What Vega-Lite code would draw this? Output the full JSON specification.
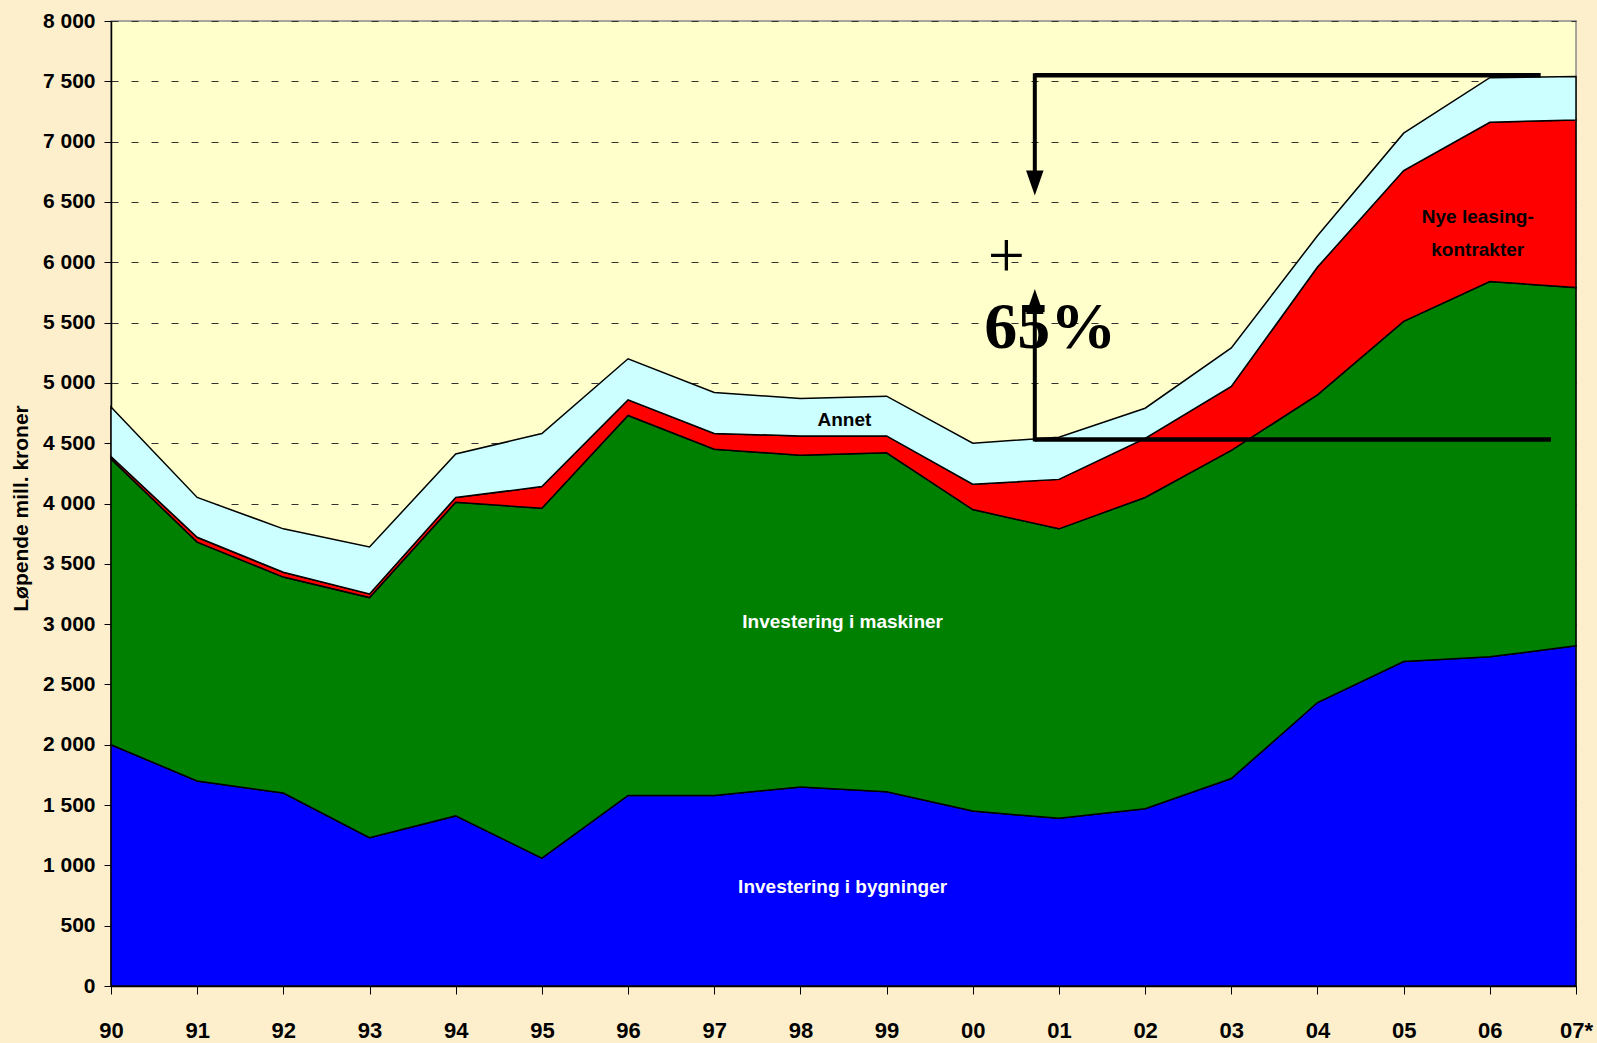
{
  "$schema": "https://vega.github.io/schema/vega-lite/v6.json",
  "width": 1465,
  "height": 965,
  "autosize": "none",
  "padding": {"left": 111, "top": 21, "right": 21, "bottom": 57},
  "background": "#FDEFCB",
  "config": {
    "view": {"fill": "#FFFFCC", "stroke": "#8c8c8c", "strokeWidth": 1.5},
    "text": {"font": "Liberation Sans", "fontWeight": "bold", "fontSize": 19}
  },
  "datasets": {
    "inv": [
      {"aar": 1990, "bygninger": 2000, "maskiner": 2370, "leasing": 20, "annet": 410},
      {"aar": 1991, "bygninger": 1700, "maskiner": 1980, "leasing": 40, "annet": 330},
      {"aar": 1992, "bygninger": 1600, "maskiner": 1790, "leasing": 40, "annet": 360},
      {"aar": 1993, "bygninger": 1230, "maskiner": 1990, "leasing": 30, "annet": 390},
      {"aar": 1994, "bygninger": 1410, "maskiner": 2600, "leasing": 40, "annet": 360},
      {"aar": 1995, "bygninger": 1060, "maskiner": 2900, "leasing": 180, "annet": 440},
      {"aar": 1996, "bygninger": 1580, "maskiner": 3150, "leasing": 130, "annet": 340},
      {"aar": 1997, "bygninger": 1580, "maskiner": 2870, "leasing": 130, "annet": 340},
      {"aar": 1998, "bygninger": 1650, "maskiner": 2750, "leasing": 160, "annet": 310},
      {"aar": 1999, "bygninger": 1610, "maskiner": 2810, "leasing": 140, "annet": 330},
      {"aar": 2000, "bygninger": 1450, "maskiner": 2500, "leasing": 210, "annet": 340},
      {"aar": 2001, "bygninger": 1390, "maskiner": 2400, "leasing": 410, "annet": 350},
      {"aar": 2002, "bygninger": 1470, "maskiner": 2580, "leasing": 490, "annet": 250},
      {"aar": 2003, "bygninger": 1720, "maskiner": 2720, "leasing": 530, "annet": 320},
      {"aar": 2004, "bygninger": 2350, "maskiner": 2550, "leasing": 1060, "annet": 260},
      {"aar": 2005, "bygninger": 2690, "maskiner": 2820, "leasing": 1250, "annet": 310},
      {"aar": 2006, "bygninger": 2730, "maskiner": 3110, "leasing": 1320, "annet": 370},
      {"aar": 2007, "bygninger": 2820, "maskiner": 2970, "leasing": 1390, "annet": 360}
    ],
    "rekkefolge": [
      {"serie": "bygninger", "nr": 1},
      {"serie": "maskiner", "nr": 2},
      {"serie": "leasing", "nr": 3},
      {"serie": "annet", "nr": 4}
    ]
  },
  "layer": [
    {
      "data": {"name": "inv"},
      "transform": [
        {"fold": ["bygninger", "maskiner", "leasing", "annet"], "as": ["serie", "verdi"]},
        {"lookup": "serie", "from": {"data": {"name": "rekkefolge"}, "key": "serie", "fields": ["nr"]}}
      ],
      "mark": {"type": "area", "stroke": "#000000", "strokeWidth": 1.5},
      "encoding": {
        "x": {
          "field": "aar", "type": "quantitative",
          "scale": {"domain": [1990, 2007], "nice": false, "zero": false},
          "axis": {
            "title": null,
            "values": [1990,1991,1992,1993,1994,1995,1996,1997,1998,1999,2000,2001,2002,2003,2004,2005,2006,2007],
            "labelExpr": "datum.value == 2007 ? '07*' : substring(toString(datum.value), 2, 4)",
            "grid": false,
            "domainColor": "#000000", "domainWidth": 1.5,
            "tickColor": "#000000", "tickSize": 8, "tickWidth": 1,
            "labelFont": "Liberation Sans", "labelFontWeight": "bold", "labelFontSize": 22,
            "labelColor": "#000000", "labelPadding": 26, "labelFlush": false
          }
        },
        "y": {
          "field": "verdi", "type": "quantitative", "stack": "zero",
          "scale": {"domain": [0, 8000], "nice": false},
          "axis": {
            "title": "Løpende mill. kroner",
            "titleFont": "Liberation Sans", "titleFontSize": 21, "titleFontWeight": "bold", "titleColor": "#000000",
            "titleX": -90, "titleY": 487, "titleAlign": "center", "titleBaseline": "middle",
            "values": [0,500,1000,1500,2000,2500,3000,3500,4000,4500,5000,5500,6000,6500,7000,7500,8000],
            "labelExpr": "replace(format(datum.value, ','), ',', ' ')",
            "grid": true, "gridDash": [7, 13], "gridColor": "#333333", "gridWidth": 1,
            "domainColor": "#000000", "domainWidth": 1.5,
            "tickColor": "#000000", "tickSize": 7,
            "labelFont": "Liberation Sans", "labelFontWeight": "bold", "labelFontSize": 21,
            "labelColor": "#000000", "labelPadding": 9
          }
        },
        "color": {
          "field": "serie", "type": "nominal",
          "scale": {"domain": ["bygninger", "maskiner", "leasing", "annet"], "range": ["#0000FF", "#008000", "#FF0000", "#CCFFFF"]},
          "legend": null
        },
        "order": {"field": "nr", "type": "quantitative"}
      }
    },
    {
      "data": {"values": [{}]},
      "mark": {"type": "rule", "color": "#000000", "strokeWidth": 4.5},
      "encoding": {"x": {"datum": 2000.72, "type": "quantitative"}, "x2": {"datum": 2006.59}, "y": {"datum": 7550, "type": "quantitative"}}
    },
    {
      "data": {"values": [{}]},
      "mark": {"type": "rule", "color": "#000000", "strokeWidth": 4.5},
      "encoding": {"x": {"datum": 2000.72, "type": "quantitative"}, "x2": {"datum": 2006.71}, "y": {"datum": 4530, "type": "quantitative"}}
    },
    {
      "data": {"values": [{}]},
      "mark": {"type": "rule", "color": "#000000", "strokeWidth": 4, "strokeCap": "square"},
      "encoding": {"x": {"datum": 2000.72, "type": "quantitative"}, "y": {"datum": 7550, "type": "quantitative"}, "y2": {"datum": 6680}}
    },
    {
      "data": {"values": [{}]},
      "mark": {"type": "rule", "color": "#000000", "strokeWidth": 4, "strokeCap": "square"},
      "encoding": {"x": {"datum": 2000.72, "type": "quantitative"}, "y": {"datum": 4530, "type": "quantitative"}, "y2": {"datum": 5660}}
    },
    {
      "data": {"values": [{}]},
      "mark": {"type": "point", "shape": "M-0.7,-1L0.7,-1L0,1Z", "filled": true, "size": 625, "color": "#000000", "opacity": 1},
      "encoding": {"x": {"datum": 2000.72, "type": "quantitative"}, "y": {"datum": 6657, "type": "quantitative"}}
    },
    {
      "data": {"values": [{}]},
      "mark": {"type": "point", "shape": "M-0.7,1L0.7,1L0,-1Z", "filled": true, "size": 625, "color": "#000000", "opacity": 1},
      "encoding": {"x": {"datum": 2000.72, "type": "quantitative"}, "y": {"datum": 5674, "type": "quantitative"}}
    },
    {
      "data": {"values": [{}]},
      "mark": {"type": "text", "text": "+", "font": "Liberation Serif", "fontWeight": "normal", "fontSize": 66, "align": "center", "baseline": "alphabetic", "color": "#000000"},
      "encoding": {"x": {"datum": 2000.39, "type": "quantitative"}, "y": {"datum": 5877, "type": "quantitative"}}
    },
    {
      "data": {"values": [{}]},
      "mark": {"type": "text", "text": "65%", "font": "Liberation Serif", "fontWeight": "bold", "fontSize": 66, "align": "center", "baseline": "alphabetic", "color": "#000000"},
      "encoding": {"x": {"datum": 2000.9, "type": "quantitative"}, "y": {"datum": 5290, "type": "quantitative"}}
    },
    {
      "data": {"values": [{}]},
      "mark": {"type": "text", "text": "Investering i maskiner", "align": "center", "baseline": "middle", "color": "#FFFFFF"},
      "encoding": {"x": {"datum": 1998.49, "type": "quantitative"}, "y": {"datum": 3017, "type": "quantitative"}}
    },
    {
      "data": {"values": [{}]},
      "mark": {"type": "text", "text": "Investering i bygninger", "align": "center", "baseline": "middle", "color": "#FFFFFF"},
      "encoding": {"x": {"datum": 1998.49, "type": "quantitative"}, "y": {"datum": 819, "type": "quantitative"}}
    },
    {
      "data": {"values": [{}]},
      "mark": {"type": "text", "text": "Annet", "align": "center", "baseline": "middle", "color": "#000000"},
      "encoding": {"x": {"datum": 1998.51, "type": "quantitative"}, "y": {"datum": 4695, "type": "quantitative"}}
    },
    {
      "data": {"values": [{}]},
      "mark": {"type": "text", "text": ["Nye leasing-", "kontrakter"], "lineHeight": 32.5, "align": "center", "baseline": "middle", "color": "#000000"},
      "encoding": {"x": {"datum": 2005.86, "type": "quantitative"}, "y": {"datum": 6375, "type": "quantitative"}}
    }
  ]
}
